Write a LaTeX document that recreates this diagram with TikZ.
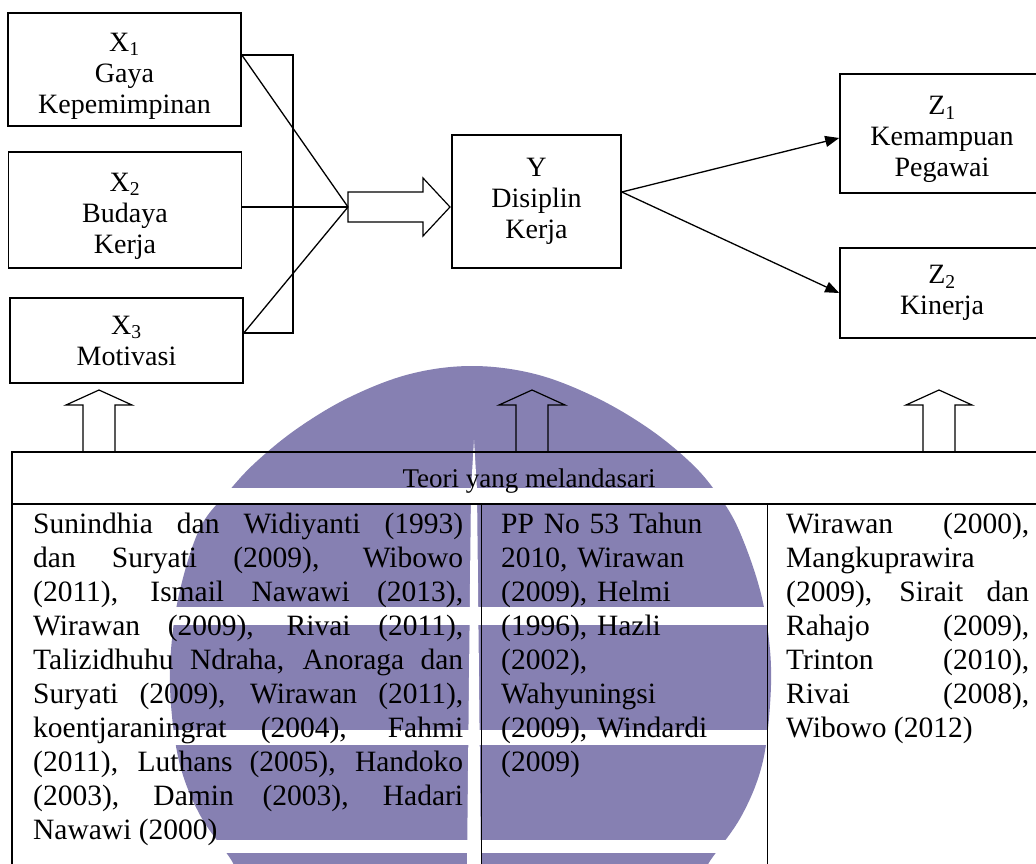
\documentclass[tikz,border=0pt]{standalone}
\usepackage{fontspec}
\setmainfont{Liberation Serif}
\usetikzlibrary{arrows.meta}
\definecolor{wmpurple}{RGB}{134,128,178}
\newcommand{\boxstrut}{\rule{0pt}{31pt}}
\tolerance=10000
\hbadness=10000
\begin{document}
\begin{tikzpicture}[x=1pt, y=-1pt,
    box/.style={draw, line width=1.6pt, align=center, inner sep=0pt,
        font=\fontsize{28}{31}\selectfont},
    conn/.style={line width=1.3pt},
    tip/.style={conn, -{Triangle[length=14pt,width=11pt]}},
    cell/.style={anchor=north west, inner sep=0pt,
        font=\fontsize{29.5}{34}\selectfont}]
    \clip (0,0) rectangle (1036,864);
    % Watermark behind the diagram
    \fill[wmpurple] plot[smooth cycle, tension=0.6] coordinates {
        (472,366) (535,374) (595,397) (648,428) (690,462) (716,492)
        (738,528) (760,590) (770,650) (770,705) (762,765) (742,815)
        (712,858) (680,900) (580,940) (470,955) (360,940) (258,900)
        (230,858) (200,815) (180,765) (171,705) (171,650) (180,590)
        (200,528) (228,492) (256,462) (298,428) (350,397) (410,374)};
    \fill[white] (0,488) rectangle (1036,503);
    \fill[white] (0,607) rectangle (1036,625);
    \fill[white] (0,730) rectangle (1036,745);
    \fill[white] (0,840) rectangle (1036,853);
    \fill[white] (474,440) -- (477,490) -- (481,864) -- (467,864) -- (471,490) -- cycle;
    % Variable boxes
    \node[box, minimum width=233pt, minimum height=113pt] (X1) at (124.5,69.5)
        {\boxstrut X\textsubscript{1}\\Gaya\\Kepemimpinan};
    \node[box, minimum width=233pt, minimum height=116pt] (X2) at (125,210)
        {\boxstrut X\textsubscript{2}\\Budaya\\Kerja};
    \node[box, minimum width=233pt, minimum height=85pt] (X3) at (126.5,340.5)
        {X\textsubscript{3}\\Motivasi};
    \node[box, minimum width=169pt, minimum height=133pt] (Y) at (536.5,201.5)
        {Y\\Disiplin\\Kerja};
    \node[box, minimum width=204pt, minimum height=119pt] (Z1) at (942,133.5)
        {\boxstrut Z\textsubscript{1}\\Kemampuan\\Pegawai};
    \node[box, minimum width=204pt, minimum height=90pt] (Z2) at (942,293)
        {Z\textsubscript{2}\\Kinerja};
    % Bracket and converging lines
    \coordinate (brk) at (293,200);
    \coordinate (jn) at (348,207);
    \draw[conn] ([yshift=14.5pt]X1.east) -| (brk) |- ([yshift=7.5pt]X3.east);
    \draw[conn] ([yshift=14.5pt]X1.east) -- (jn);
    \draw[conn] (X2.east |- jn) -- (jn);
    \draw[conn] ([yshift=7.5pt]X3.east) -- (jn);
    % Block arrow into Y
    \draw[conn, line width=1.2pt] (jn) ++(0,-15) -- ++(75,0) -- ++(0,-14)
        -- ++(27,29) -- ++(-27,29) -- ++(0,-14) -- ++(-75,0) -- cycle;
    % Arrows out of Y
    \draw[tip] ([yshift=9.5pt]Y.east) -- ([yshift=-4.5pt]Z1.west);
    \draw[tip] ([yshift=9.5pt]Y.east) -- (Z2.west);
    % Up arrows from the table
    \foreach \cx in {99,532,939}
        \draw[conn, line width=1.2pt] (\cx,452) -- ++(-16,0) -- ++(0,-47)
            -- ++(-17,0) -- ++(33,-15) -- ++(33,15) -- ++(-17,0) -- ++(0,47) -- cycle;
    % Table
    \draw[line width=1.3pt] (12,868) -- (12,452) -- (1040,452);
    \draw[line width=1.3pt] (12,504) -- (1040,504);
    \draw[line width=1pt] (481,504) -- (481,868);
    \draw[line width=1pt] (767,504) -- (767,868);
    \node[anchor=base, inner sep=0pt, font=\fontsize{27}{30}\selectfont] (hdr)
        at (529,487) {Teori yang melandasari};
    \node[cell, text width=430pt, align=justify] (c1) at (33,513)
        {Sunindhia dan Widiyanti (1993)\linebreak
        dan Suryati (2009), Wibowo\linebreak
        (2011), Ismail Nawawi (2013),\linebreak
        Wirawan (2009), Rivai (2011),\linebreak
        Talizidhuhu Ndraha, Anoraga dan\linebreak
        Suryati (2009), Wirawan (2011),\linebreak
        koentjaraningrat (2004), Fahmi\linebreak
        (2011), Luthans (2005), Handoko\linebreak
        (2003), Damin (2003), Hadari\linebreak
        Nawawi (2000)};
    \node[cell, text width=260pt, align=left] (c2) at (501,513)
        {PP No 53 Tahun\\2010, Wirawan\\(2009), Helmi\\(1996), Hazli\\(2002),\\Wahyuningsi\\(2009), Windardi\\(2009)};
    \node[cell, text width=243pt, align=justify] (c3) at (786,513)
        {Wirawan (2000),\linebreak
        Mangkuprawira\linebreak
        (2009), Sirait dan\linebreak
        Rahajo (2009),\linebreak
        Trinton (2010),\linebreak
        Rivai (2008),\linebreak
        Wibowo (2012)};
\end{tikzpicture}
\end{document}
